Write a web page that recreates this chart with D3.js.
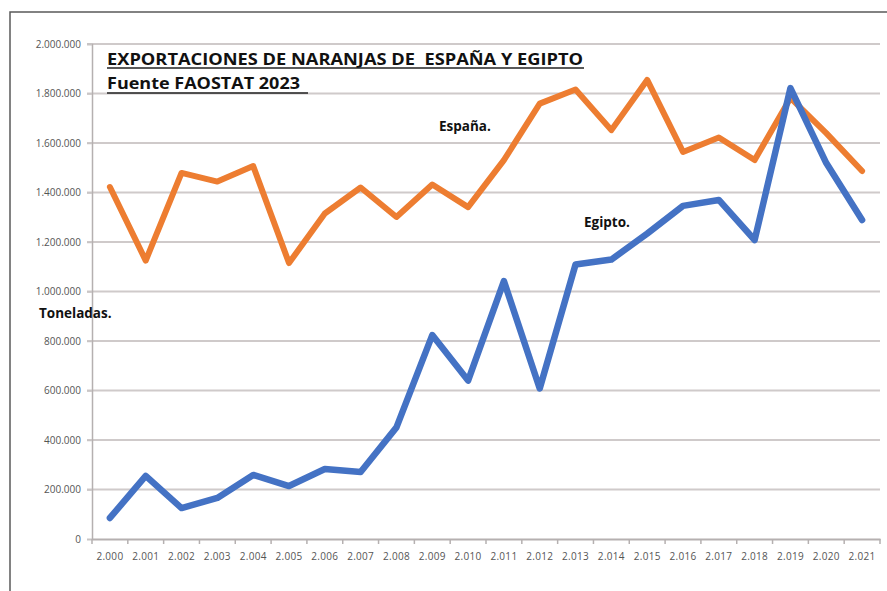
<!DOCTYPE html>
<html lang="es">
<head>
<meta charset="UTF-8">
<title>Exportaciones de naranjas</title>
<style>
  body { margin: 0; background: #fff; }
  text { font-family: "Open Sans", "DejaVu Sans", sans-serif; }
  .tick text { fill: #555; font-size: 10px; }
  .grid line { stroke: #cfcaca; stroke-width: 2; }
  .lbl { font-weight: bold; font-size: 13.5px; fill: #111; }
</style>
</head>
<body>
<div id="chart"></div>
<script src="https://cdn.jsdelivr.net/npm/d3@7"></script>
<script>
var years = [2000, 2001, 2002, 2003, 2004, 2005, 2006, 2007, 2008, 2009, 2010,
             2011, 2012, 2013, 2014, 2015, 2016, 2017, 2018, 2019, 2020, 2021];
var espana = [1422000, 1125000, 1479000, 1444000, 1507000, 1115000, 1315000, 1420000, 1301000, 1432000, 1341000,
              1531000, 1759000, 1816000, 1652000, 1855000, 1564000, 1622000, 1531000, 1782000, 1640000, 1487000];
var egipto = [85000, 255000, 125000, 166000, 259000, 214000, 283000, 271000, 451000, 824000, 640000,
              1042000, 608000, 1109000, 1129000, 1234000, 1346000, 1370000, 1208000, 1822000, 1519000, 1289000];
var yTicks = [0, 200000, 400000, 600000, 800000, 1000000, 1200000, 1400000, 1600000, 1800000, 2000000];
var titulo = "EXPORTACIONES DE NARANJAS DE  ESPAÑA Y EGIPTO";
var fuente = "Fuente FAOSTAT 2023";

var W = 887, H = 591;
var svg = d3.select("#chart").append("svg").attr("width", W).attr("height", H);

var es = d3.formatLocale({decimal: ",", thousands: ".", grouping: [3], currency: ["", ""]});
var fmt = es.format(",");

var x = d3.scaleBand().domain(years).range([92, 880]);
var y = d3.scaleLinear().domain([0, 2000000]).range([539, 44]);

// marco
svg.append("path")
  .attr("d", "M10," + H + "V12H" + W)
  .attr("fill", "none").attr("stroke", "#5a5a5a").attr("stroke-width", 1.5);

// rejilla
svg.append("g").attr("class", "grid")
  .selectAll("line").data(yTicks.filter(function (d) { return d > 0; }))
  .enter().append("line")
  .attr("x1", 87).attr("x2", 880)
  .attr("y1", function (d) { return y(d); }).attr("y2", function (d) { return y(d); });

// eje y
var gy = svg.append("g").attr("transform", "translate(92,0)")
  .call(d3.axisLeft(y).tickValues(yTicks).tickFormat(fmt).tickSize(5).tickPadding(6));
gy.select(".domain").attr("stroke", "#b5b0b0").attr("stroke-width", 1.5);
gy.selectAll(".tick line").attr("stroke", "#c8c4c4").attr("stroke-width", 1.5);

// eje x
var gx = svg.append("g").attr("transform", "translate(0,539)")
  .call(d3.axisBottom(x).tickFormat(fmt).tickSize(0).tickPadding(14));
gx.select(".domain").attr("stroke", "#b5b0b0").attr("stroke-width", 2);
gx.selectAll(".tick text").attr("font-size", "9px").attr("letter-spacing", "0.3px");
gx.selectAll("line.sep").data(years.concat([null]))
  .enter().append("line").attr("class", "sep")
  .attr("x1", function (d, i) { return 92 + i * x.step(); })
  .attr("x2", function (d, i) { return 92 + i * x.step(); })
  .attr("y1", 0).attr("y2", 5)
  .attr("stroke", "#b5b0b0").attr("stroke-width", 1.5);

// series
var line = d3.line()
  .x(function (d, i) { return x(years[i]) + x.bandwidth() / 2; })
  .y(function (d) { return y(d); });

svg.append("path").datum(espana).attr("d", line)
  .attr("fill", "none").attr("stroke", "#ed7d31").attr("stroke-width", 6)
  .attr("stroke-linejoin", "round").attr("stroke-linecap", "round");
svg.append("path").datum(egipto).attr("d", line)
  .attr("fill", "none").attr("stroke", "#4472c4").attr("stroke-width", 6.5)
  .attr("stroke-linejoin", "round").attr("stroke-linecap", "round");

// textos
svg.append("text").attr("x", 107).attr("y", 65)
  .attr("font-size", "16px").attr("font-weight", "bold").attr("fill", "#111")
  .attr("textLength", 476).attr("lengthAdjust", "spacingAndGlyphs")
  .attr("xml:space", "preserve").text(titulo);
svg.append("line").attr("x1", 107).attr("x2", 584).attr("y1", 68).attr("y2", 68)
  .attr("stroke", "#222").attr("stroke-width", 1.5);
svg.append("text").attr("x", 107).attr("y", 89)
  .attr("font-size", "16px").attr("font-weight", "bold").attr("fill", "#111")
  .attr("textLength", 193).attr("lengthAdjust", "spacingAndGlyphs").text(fuente);
svg.append("line").attr("x1", 107).attr("x2", 308).attr("y1", 93).attr("y2", 93)
  .attr("stroke", "#222").attr("stroke-width", 1.5);

svg.append("text").attr("class", "lbl").attr("x", 439).attr("y", 131).text("España.");
svg.append("text").attr("class", "lbl").attr("x", 584).attr("y", 227).text("Egipto.");
svg.append("text").attr("class", "lbl").attr("x", 39).attr("y", 318).text("Toneladas.");
</script>
</body>
</html>
